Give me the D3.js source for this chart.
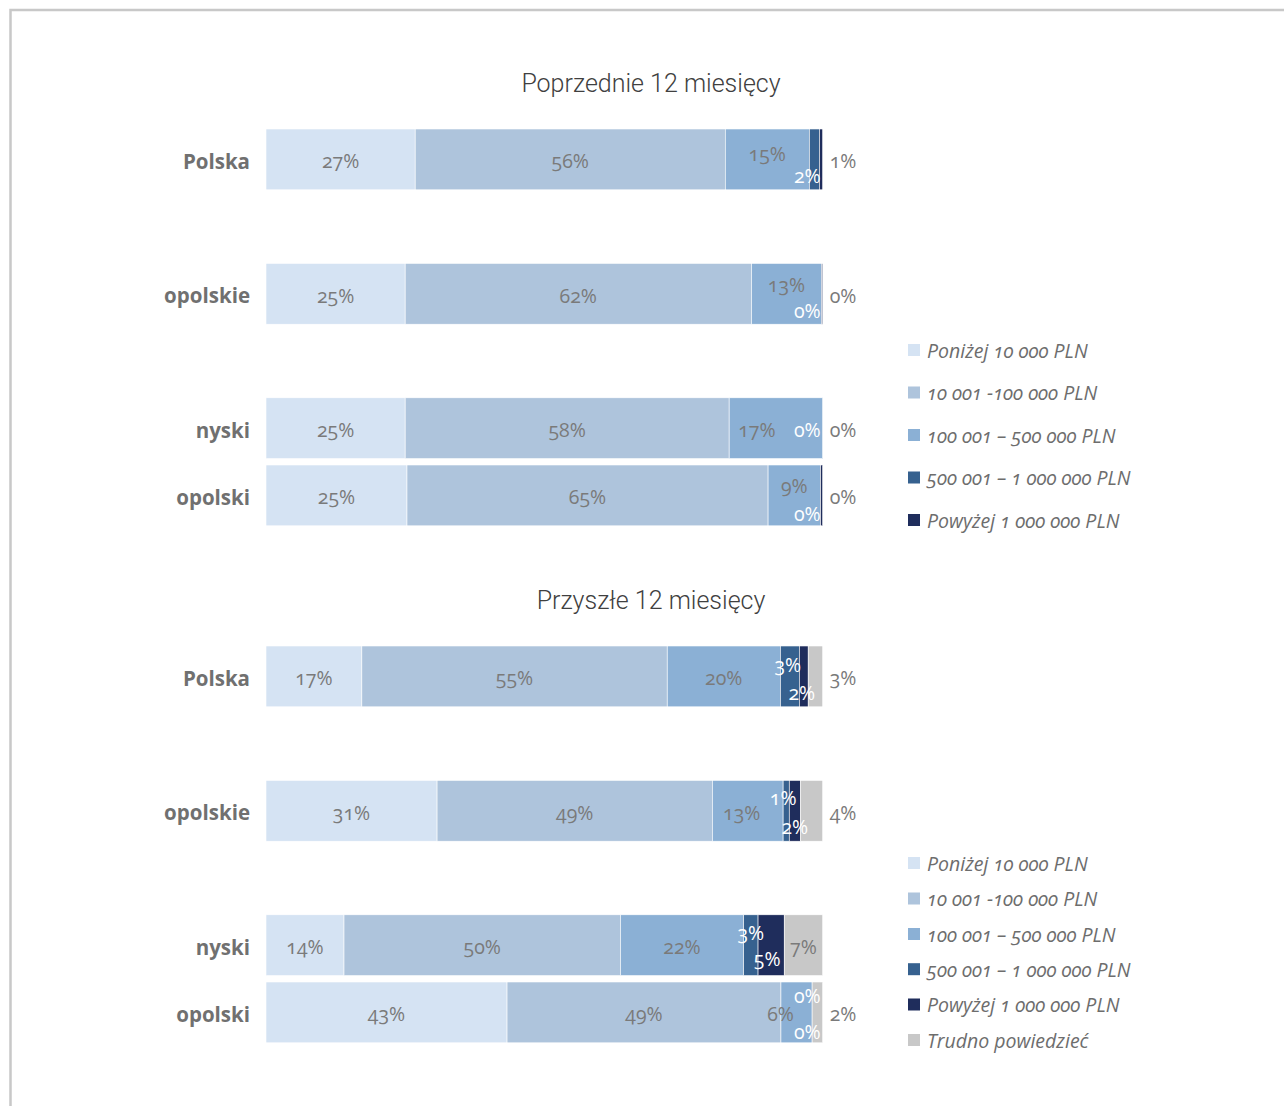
<!DOCTYPE html>
<html><head><meta charset="utf-8">
<script src="https://cdn.jsdelivr.net/npm/d3@7"></script>
<style>
body{margin:0;background:#fff;}
svg{display:block;}
.lbl{font-family:"Open Sans",sans-serif;font-size:19.5px;font-variant-numeric:oldstyle-nums;}
.cat{font-family:"Open Sans",sans-serif;font-weight:700;font-size:20.5px;fill:#707070;}
.ttl{font-family:Roboto,sans-serif;font-weight:300;font-size:25px;fill:#404040;}
.leg{font-family:"Open Sans",sans-serif;font-style:italic;font-size:19.5px;fill:#6d6d6d;font-variant-numeric:oldstyle-nums;}
</style>
</head><body>
<script>
// ---- data ----
const categories = ["Polska", "opolskie", "nyski", "opolski"];
const rowSlots = ["Polska", "gap1", "opolskie", "gap2", "nyski", "opolski"];
const seriesNames = ["Poniżej 10 000 PLN", "10 001 -100 000 PLN", "100 001 – 500 000 PLN", "500 001 – 1 000 000 PLN", "Powyżej 1 000 000 PLN", "Trudno powiedzieć"];
const titles = ["Poprzednie 12 miesięcy", "Przyszłe 12 miesięcy"];

// Poprzednie 12 miesięcy
const prevBelow10k = [26.8, 25.0, 25.0, 25.3];
const prev10to100k = [55.7, 62.2, 58.2, 64.8];
const prev100to500k = [15.1, 12.6, 16.8, 9.4];
const prev500kto1m = [1.8, 0.0, 0.0, 0.0];
const prevAbove1m = [0.6, 0.2, 0.0, 0.4];

// Przyszłe 12 miesięcy
const nextBelow10k = [17.2, 30.7, 14.0, 43.3];
const next10to100k = [54.8, 49.4, 49.6, 49.2];
const next100to500k = [20.3, 12.7, 22.1, 5.6];
const next500kto1m = [3.4, 1.1, 2.6, 0.0];
const nextAbove1m = [1.6, 2.0, 4.7, 0.0];
const nextHard = [2.6, 4.0, 6.9, 1.9];

const colors = ["#d5e3f3", "#aec4dc", "#8bb0d5", "#36618f", "#1f2d5c", "#c8c8c8"];

// label nudges (layout) keyed "category-seriesIndex": [dx, dy]
const prevNudge = {"Polska-2": [0, -7], "Polska-3": [0, 15], "opolskie-2": [0, -11], "opolskie-3": [0, 15],
  "nyski-2": [-19, 0], "nyski-3": [0, 0], "opolski-2": [0, -11], "opolski-3": [0, 17]};
const nextNudge = {"Polska-3": [-2, -13], "Polska-4": [-2, 15], "opolskie-2": [-6, 0], "opolskie-3": [-3, -15],
  "opolskie-4": [0, 14], "nyski-3": [0, -14], "nyski-4": [-4, 12], "opolski-2": [-16, 0],
  "opolski-3": [0, -18], "opolski-4": [0, 18]};

function buildRows(arrays) {
  return categories.map((c, i) => {
    const o = {cat: c};
    arrays.forEach((a, k) => o["s" + k] = a[i]);
    return o;
  });
}

const W = 1284, H = 1106;
const svg = d3.select("body").append("svg").attr("width", W).attr("height", H);

// frame
svg.append("path").attr("d", `M10.5,${H} V10 H${W}`).attr("fill", "none")
  .attr("stroke", "#c8c8c8").attr("stroke-width", 2.5);

const x = d3.scaleLinear().domain([0, 1]).range([266, 822.7]);

const panels = [
  {title: titles[0], titleY: 92, arrays: [prevBelow10k, prev10to100k, prev100to500k, prev500kto1m, prevAbove1m],
   y0: 125.8, nudge: prevNudge, legendY: [350, 392.5, 435, 477.5, 520], outsideSeries: 4},
  {title: titles[1], titleY: 609, arrays: [nextBelow10k, next10to100k, next100to500k, next500kto1m, nextAbove1m, nextHard],
   y0: 642.8, nudge: nextNudge, legendY: [863, 898.5, 934, 969.2, 1004.5, 1040], outsideSeries: 5}
];

panels.forEach(p => {
  const nS = p.arrays.length;
  const keys = d3.range(nS).map(k => "s" + k);
  const rows = buildRows(p.arrays);
  const stacked = d3.stack().keys(keys).offset(d3.stackOffsetExpand)(rows);
  const y = d3.scaleBand().domain(rowSlots).range([p.y0, p.y0 + 6 * 67.2]).paddingInner(0.095).paddingOuter(0.0475);

  svg.append("text").attr("class", "ttl").attr("x", 651).attr("y", p.titleY)
    .attr("text-anchor", "middle").text(p.title);

  const g = svg.append("g");
  stacked.forEach((layer, k) => {
    g.selectAll(null).data(layer).join("rect")
      .attr("x", d => x(d[0])).attr("width", d => Math.max(0, x(d[1]) - x(d[0])))
      .attr("y", d => y(d.data.cat)).attr("height", y.bandwidth())
      .attr("fill", colors[k]).attr("stroke", "#fff").attr("stroke-width", 0.6);
  });

  // category labels
  svg.selectAll(null).data(categories).join("text").attr("class", "cat")
    .attr("x", 250).attr("y", c => y(c) + y.bandwidth() / 2 + 2).attr("dy", "0.36em")
    .attr("text-anchor", "end").text(c => c);

  // data labels
  stacked.forEach((layer, k) => {
    layer.forEach(d => {
      const v = p.arrays[k][categories.indexOf(d.data.cat)];
      const cy = y(d.data.cat) + y.bandwidth() / 2 + 2;
      const key = d.data.cat + "-" + k;
      const nd = p.nudge[key] || [0, 0];
      let tx = (x(d[0]) + x(d[1])) / 2 + nd[0];
      let anchor = "middle";
      let fill = k >= 3 && k <= 4 ? "#ffffff" : "#7a7a7a";
      if (k === p.outsideSeries && !(k === 5 && v >= 5)) {
        tx = x(1) + 7; anchor = "start"; fill = "#7a7a7a";
      } else if ((k === 3 || k === 4) && (nS === 5 || v < 0.5)) {
        tx = x(1) - 2; anchor = "end";
      }
      svg.append("text").attr("class", "lbl").attr("x", tx).attr("y", cy + nd[1])
        .attr("dy", "0.36em").attr("text-anchor", anchor).attr("fill", fill)
        .text(Math.round(v) + "%");
    });
  });

  // legend
  const lg = svg.append("g");
  d3.range(nS).forEach(k => {
    lg.append("rect").attr("x", 908).attr("y", p.legendY[k] - 6).attr("width", 12).attr("height", 12)
      .attr("fill", colors[k]);
    lg.append("text").attr("class", "leg").attr("x", 927).attr("y", p.legendY[k] + 1).attr("dy", "0.35em")
      .text(seriesNames[k]);
  });
});
</script>
</body></html>
